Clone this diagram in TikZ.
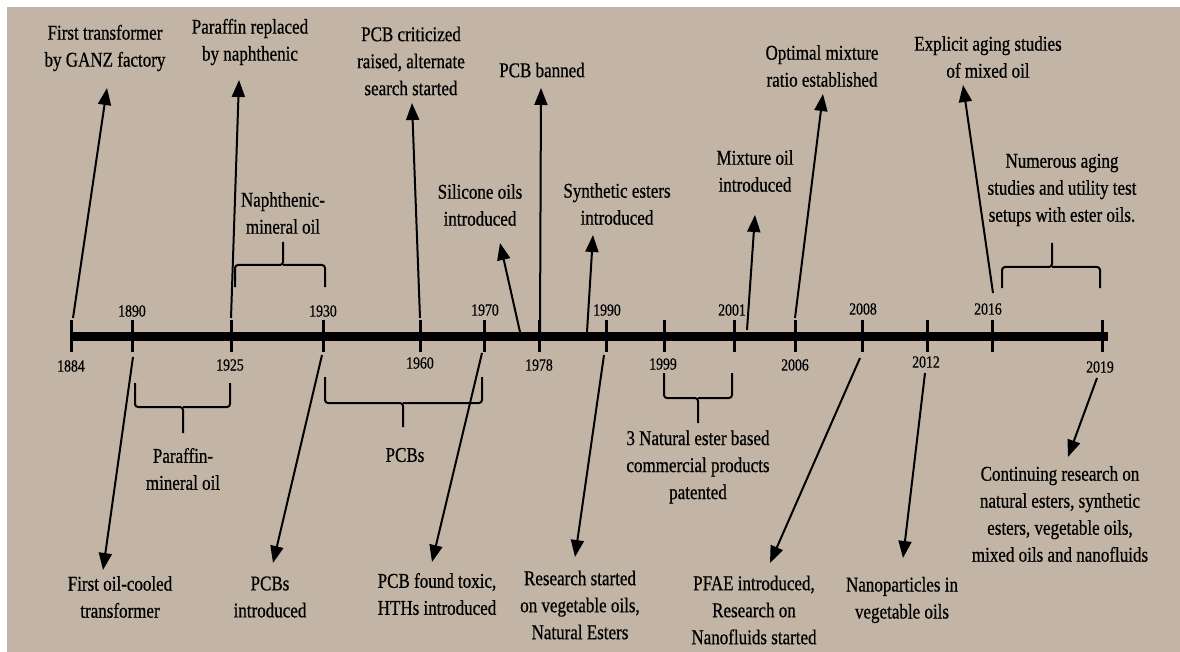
\documentclass[tikz,border=0pt]{standalone}
\usepackage{fontspec}
\setmainfont[FakeStretch=0.81,FakeBold=0.6]{Liberation Serif}
\usetikzlibrary{arrows.meta}
\definecolor{bgtan}{HTML}{C2B5A6}
\begin{document}
\begin{tikzpicture}[x=1pt,y=-1pt,
  lbl/.style={align=center,font=\fontsize{21}{27}\selectfont,inner sep=0pt},
  yr/.style={font=\fontsize{17}{20}\selectfont,inner sep=0pt},
  arr/.style={line width=2pt,-{Triangle[length=17pt,width=13pt]}},
  brk/.style={line width=2pt,rounded corners=3pt},
  tck/.style={line width=3pt}]
\useasboundingbox (0,0) rectangle (1180,652);
\fill[white] (0,0) rectangle (1180,652);
\fill[bgtan] (7,7) rectangle (1180,652);

% axis
\coordinate (axL) at (71,336);
\coordinate (axR) at (1108,336);
\draw[line width=9pt] (axL) -- (axR);

% ticks
\foreach \n/\x in {1884/71,1890/132,1925/231,1930/323,1960/420,1970/484,1978/539,1990/606,1999/664,2001/734,2006/795,2008/862,2012/927,2016/992,2019/1102}{
  \coordinate (t\n) at (\x,336);
  \draw[tck] (\x,320) -- (\x,352);
}

% year labels above
\node[yr] (y1890) at (132,311) {1890};
\node[yr] (y1930) at (323,311) {1930};
\node[yr] (y1970) at (485,310) {1970};
\node[yr] (y1990) at (607,310) {1990};
\node[yr] (y2001) at (732,310) {2001};
\node[yr] (y2008) at (863,309) {2008};
\node[yr] (y2016) at (988,309) {2016};
% year labels below
\node[yr] (y1884) at (71,366) {1884};
\node[yr] (y1925) at (230,365) {1925};
\node[yr] (y1960) at (420,363) {1960};
\node[yr] (y1978) at (539,365) {1978};
\node[yr] (y1999) at (663,364) {1999};
\node[yr] (y2006) at (795,365) {2006};
\node[yr] (y2012) at (926,362) {2012};
\node[yr] (y2019) at (1100,367) {2019};

% top labels
\node[lbl] (T1) at (105,48) {First transformer\\by GANZ factory};
\node[lbl] (T2) at (250,42) {Paraffin replaced\\by naphthenic};
\node[lbl] (T3) at (411,61) {PCB criticized\\raised, alternate\\search started};
\node[lbl] (T4) at (542,70) {PCB banned};
\node[lbl] (T5) at (480,205) {Silicone oils\\introduced};
\node[lbl] (T6) at (617,204) {Synthetic esters\\introduced};
\node[lbl] (T7) at (755,171) {Mixture oil\\introduced};
\node[lbl] (T8) at (822,66) {Optimal mixture\\ratio established};
\node[lbl] (T9) at (988,57) {Explicit aging studies\\of mixed oil};
\node[lbl] (T10) at (1062,190) {Numerous aging\\studies and utility test\\setups with ester oils.};
\node[lbl] (T11) at (283,213) {Naphthenic-\\mineral oil};
% bottom labels
\node[lbl] (B0) at (183,469) {Paraffin-\\mineral oil};
\node[lbl] (B1) at (120,597) {First oil-cooled\\transformer};
\node[lbl] (B2) at (270,597) {PCBs\\introduced};
\node[lbl] (B8) at (405,455) {PCBs};
\node[lbl] (B3) at (437,594) {PCB found toxic,\\HTHs introduced};
\node[lbl] (B4) at (580,605) {Research started\\on vegetable oils,\\Natural Esters};
\node[lbl] (B9) at (698,467) {3 Natural ester based\\commercial products\\patented};
\node[lbl] (B5) at (754,610) {PFAE introduced,\\Research on\\Nanofluids started};
\node[lbl] (B6) at (902,600) {Nanoparticles in\\vegetable oils};
\node[lbl] (B7) at (1060,514) {Continuing research on\\natural esters, synthetic\\esters, vegetable oils,\\mixed oils and nanofluids};

% arrow start and tip coordinates
\coordinate (sA1) at (73,318);   \coordinate (pA1) at (107,88);
\coordinate (sA2) at (231,318);  \coordinate (pA2) at (239,80);
\coordinate (sA3) at (420,318);  \coordinate (pA3) at (412,103);
\coordinate (sA4) at (540,332);  \coordinate (pA4) at (541,88);
\coordinate (sA5) at (520,332);  \coordinate (pA5) at (500,243);
\coordinate (sA6) at (587,332);  \coordinate (pA6) at (593,235);
\coordinate (sA7) at (747,330);  \coordinate (pA7) at (755,215);
\coordinate (sA8) at (795,318);  \coordinate (pA8) at (823,94);
\coordinate (sA9) at (993,293);  \coordinate (pA9) at (963,85);
\coordinate (sB1) at (133,357);  \coordinate (pB1) at (103,570);
\coordinate (sB2) at (322,355);  \coordinate (pB2) at (273,563);
\coordinate (sB3) at (482,353);  \coordinate (pB3) at (432,562);
\coordinate (sB4) at (604,355);  \coordinate (pB4) at (575,557);
\coordinate (sB5) at (860,358);  \coordinate (pB5) at (770,563);
\coordinate (sB6) at (925,373);  \coordinate (pB6) at (903,558);
\coordinate (sB7) at (1097,378); \coordinate (pB7) at (1068,457);

\foreach \a in {A1,A2,A3,A4,A5,A6,A7,A8,A9,B1,B2,B3,B4,B5,B6,B7}{
  \draw[arr] (s\a) -- (p\a);
}

% brackets above axis
\draw[brk] (235,287) -- (235,265) -- (283,265) -- (283,242);
\draw[brk] (325,287) -- (325,265) -- (283,265);
\draw[brk] (1002,288) -- (1002,267) -- (1052,267) -- (1052,243);
\draw[brk] (1100,288) -- (1100,267) -- (1052,267);
% brackets below axis
\draw[brk] (135,383) -- (135,407) -- (183,407) -- (183,433);
\draw[brk] (230,383) -- (230,407) -- (183,407);
\draw[brk] (325,377) -- (325,403) -- (403,403) -- (403,427);
\draw[brk] (482,377) -- (482,403) -- (403,403);
\draw[brk] (664,373) -- (664,398) -- (698,398) -- (698,423);
\draw[brk] (732,373) -- (732,398) -- (698,398);
\end{tikzpicture}
\end{document}
